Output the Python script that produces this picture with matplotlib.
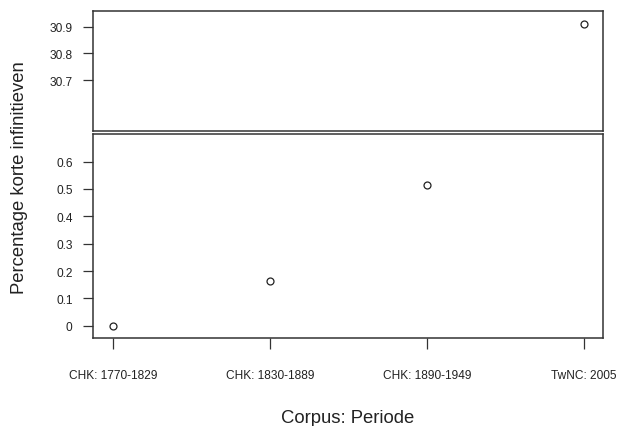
import matplotlib
matplotlib.use("Agg")
import matplotlib.pyplot as plt

periods = ["CHK: 1770-1829", "CHK: 1830-1889", "CHK: 1890-1949", "TwNC: 2005"]
percentages = [0.0, 0.165, 0.516, 30.91]

top_ticks = [30.7, 30.8, 30.9]
bottom_ticks = [0, 0.1, 0.2, 0.3, 0.4, 0.5, 0.6]

plt.rcParams['font.family'] = ['Liberation Sans', 'DejaVu Sans']

W, H = 617, 427
fig = plt.figure(figsize=(W / 100, H / 100), dpi=100)


def px_axes(left, top, right, bottom):
    return fig.add_axes([left / W, 1 - bottom / H, (right - left) / W, (bottom - top) / H])


ax_top = px_axes(93, 12, 603, 132)
ax_bot = px_axes(93, 135, 603, 339)

xs = list(range(1, len(periods) + 1))
for ax in (ax_top, ax_bot):
    ax.plot(xs, percentages, linestyle='none', marker='o', markersize=5,
            markerfacecolor='white', markeredgecolor='#222222', markeredgewidth=0.9)
    ax.set_xlim(0.873, 4.12)
    for s in ax.spines.values():
        s.set_linewidth(1.1)
        s.set_color('#333333')
    ax.tick_params(axis='y', length=7.2, width=0.9, color='#333333', pad=7.5,
                   labelsize=8.6, labelcolor='#222222')

ax_top.set_ylim(30.509, 30.959)
ax_top.set_yticks(top_ticks)
ax_top.set_yticklabels(["30.7", "30.8", "30.9"])
ax_top.set_xticks([])

ax_bot.set_ylim(-0.045, 0.701)
ax_bot.set_yticks(bottom_ticks)
ax_bot.set_yticklabels(["0", "0.1", "0.2", "0.3", "0.4", "0.5", "0.6"])
ax_bot.set_xticks(xs)
ax_bot.set_xticklabels(periods)
ax_bot.tick_params(axis='x', length=8, width=0.9, color='#333333', pad=14,
                   labelsize=8.6, labelcolor='#222222')

fig.text(20 / W, 1 - 178 / H, "Percentage korte infinitieven", rotation=90,
         ha='center', va='center', fontsize=13.3, color='#222222')
fig.text(348 / W, 1 - 423 / H, "Corpus: Periode",
         ha='center', va='baseline', fontsize=13.3, color='#222222')

fig.savefig("out.png", dpi=100)
